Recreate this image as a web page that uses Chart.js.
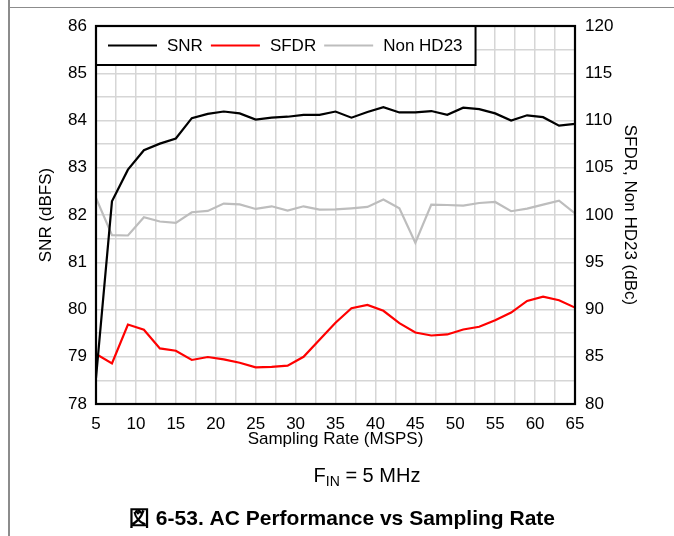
<!DOCTYPE html>
<html>
<head>
<meta charset="utf-8">
<script src="https://cdn.jsdelivr.net/npm/chart.js@4/dist/chart.umd.min.js"></script>
<style>
  body { margin: 0; background: #fff; }
  #wrap { position: relative; width: 674px; height: 536px; overflow: hidden; }
  .frame-v { position: absolute; left: 8px; top: 0; width: 2px; height: 536px; background: #8c8c8c; }
  .frame-h { position: absolute; left: 8px; top: 7px; width: 666px; height: 1px; background: #8c8c8c; }
</style>
</head>
<body>
<div id="wrap">
  <canvas id="acChart" width="674" height="536"></canvas>
  <div class="frame-v"></div>
  <div class="frame-h"></div>
</div>
<script>
// Sampling rate (MSPS)
const rates = [5, 7, 9, 11, 13, 15, 17, 19, 21, 23, 25, 27, 29, 31, 33, 35,
               37, 39, 41, 43, 45, 47, 49, 51, 53, 55, 57, 59, 61, 63, 65];

// SNR (dBFS), left axis
const snr = [78.55, 82.29, 82.96, 83.37, 83.51, 83.62, 84.05, 84.14, 84.19, 84.15, 84.02,
             84.06, 84.08, 84.12, 84.12, 84.19, 84.06, 84.18, 84.28, 84.17, 84.17, 84.20,
             84.12, 84.27, 84.24, 84.15, 84.00, 84.11, 84.07, 83.89, 83.93];

// SFDR (dBc), right axis
const sfdr = [85.29, 84.30, 88.41, 87.85, 85.88, 85.64, 84.66, 84.97, 84.72, 84.37, 83.88,
              83.92, 84.06, 85.00, 86.80, 88.60, 90.14, 90.49, 89.86, 88.56, 87.57, 87.25,
              87.36, 87.88, 88.17, 88.87, 89.68, 90.91, 91.36, 90.98, 90.20];

// Non HD23 (dBc), right axis
const nonHd23 = [101.8, 97.87, 97.83, 99.76, 99.31, 99.17, 100.29, 100.43, 101.21, 101.13, 100.64,
                 100.92, 100.47, 100.92, 100.57, 100.60, 100.71, 100.85, 101.63, 100.71, 97.06, 101.10,
                 101.06, 101.00, 101.27, 101.38, 100.40, 100.68, 101.10, 101.52, 100.18];

const xTicks = [5, 10, 15, 20, 25, 30, 35, 40, 45, 50, 55, 60, 65];
const snrTicks = [78, 79, 80, 81, 82, 83, 84, 85, 86];
const dbcTicks = [80, 85, 90, 95, 100, 105, 110, 115, 120];

const FONT = "'Liberation Sans', Arial, sans-serif";

function toPoints(ys) {
    return rates.map((r, i) => ({ x: r, y: ys[i] }));
}

// legend box in the top-left corner of the plot + notes under the chart
const boxLegend = {
    id: 'boxLegend',
    afterDraw(chart) {
        const ctx = chart.ctx;
        const area = chart.chartArea;
        const cy = 45.5;
        ctx.save();
        ctx.font = "17px " + FONT;
        let x = area.left + 12;
        const items = [];
        chart.data.datasets.forEach(ds => {
            const w = ctx.measureText(ds.label).width;
            items.push({ ds, x, w });
            x += 49 + 10 + w + 8;
        });
        const right = x - 8 + 13;
        ctx.fillStyle = '#fff';
        ctx.fillRect(area.left, area.top, right - area.left, 65 - area.top);
        ctx.strokeStyle = '#000';
        ctx.lineWidth = 2;
        ctx.strokeRect(area.left, area.top, right - area.left, 65 - area.top);

        items.forEach(it => {
            ctx.strokeStyle = it.ds.borderColor;
            ctx.lineWidth = 2;
            ctx.beginPath();
            ctx.moveTo(it.x, cy);
            ctx.lineTo(it.x + 49, cy);
            ctx.stroke();
            ctx.fillStyle = '#000';
            ctx.textBaseline = 'middle';
            ctx.fillText(it.ds.label, it.x + 59, cy + 1);
        });

        // plot border
        ctx.strokeStyle = '#000';
        ctx.lineWidth = 2.2;
        ctx.strokeRect(area.left, area.top, area.right - area.left, area.bottom - area.top);

        // F_IN note, centred
        ctx.fillStyle = '#000';
        ctx.textBaseline = 'alphabetic';
        const big = "20px " + FONT, small = "14px " + FONT;
        ctx.font = big;
        const wF = ctx.measureText('F').width, wRest = ctx.measureText(' = 5 MHz').width;
        ctx.font = small;
        const wIn = ctx.measureText('IN').width;
        let fx = 367 - (wF + wIn + wRest) / 2;
        ctx.font = big;
        ctx.fillText('F', fx, 482);
        fx += wF;
        ctx.font = small;
        ctx.fillText('IN', fx, 486);
        fx += wIn;
        ctx.font = big;
        ctx.fillText(' = 5 MHz', fx, 482);

        ctx.font = "bold 21px " + FONT;
        ctx.textAlign = 'center';
        ctx.fillText('図 6-53. AC Performance vs Sampling Rate', 342, 525);
        ctx.restore();
    }
};

new Chart(document.getElementById('acChart'), {
    type: 'line',
    data: {
        datasets: [
            { label: 'SNR', data: toPoints(snr), yAxisID: 'y', borderColor: '#000000', borderWidth: 2.2 },
            { label: 'SFDR', data: toPoints(sfdr), yAxisID: 'y2', borderColor: '#ff0000', borderWidth: 2.2 },
            { label: 'Non HD23', data: toPoints(nonHd23), yAxisID: 'y2', borderColor: '#bdbdbd', borderWidth: 2.2 }
        ]
    },
    options: {
        responsive: false,
        devicePixelRatio: 1,
        animation: false,
        events: [],
        layout: { padding: { top: 26, bottom: 82, left: 0, right: 0 } },
        elements: { point: { radius: 0 }, line: { tension: 0 } },
        plugins: { legend: { display: false }, tooltip: { enabled: false } },
        scales: {
            x: {
                type: 'linear', min: 5, max: 65,
                afterBuildTicks: s => { s.ticks = []; for (let i = 0; i <= 24; i++) s.ticks.push({ value: 5 + i * 2.5 }); },
                afterFit: s => { s.height = 50; },
                grid: { color: '#d6d6d6', lineWidth: 1.5, drawTicks: false },
                border: { display: false },
                ticks: {
                    autoSkip: false, maxRotation: 0, padding: 10, color: '#000',
                    font: { family: FONT, size: 17 },
                    callback: v => xTicks.includes(v) ? String(v) : ''
                },
                title: { display: true, text: 'Sampling Rate (MSPS)', color: '#000', font: { family: FONT, size: 17 }, padding: { top: 2 } }
            },
            y: {
                position: 'left', min: 78, max: 86,
                afterBuildTicks: s => { s.ticks = []; for (let i = 0; i <= 16; i++) s.ticks.push({ value: 78 + i * 0.5 }); },
                afterFit: s => { s.width = 96; },
                grid: { color: '#d6d6d6', lineWidth: 1.5, drawTicks: false },
                border: { display: false },
                ticks: {
                    autoSkip: false, padding: 9, color: '#000',
                    font: { family: FONT, size: 17 },
                    callback: v => snrTicks.includes(v) ? String(v) : ''
                },
                title: { display: true, text: 'SNR (dBFS)', color: '#000', font: { family: FONT, size: 17 }, padding: { top: 36 } }
            },
            y2: {
                position: 'right', min: 80, max: 120,
                afterBuildTicks: s => { s.ticks = []; for (let i = 0; i <= 16; i++) s.ticks.push({ value: 80 + i * 2.5 }); },
                afterFit: s => { s.width = 99; },
                grid: { drawOnChartArea: false, drawTicks: false },
                border: { display: false },
                ticks: {
                    autoSkip: false, padding: 10, color: '#000',
                    font: { family: FONT, size: 17 },
                    callback: v => dbcTicks.includes(v) ? String(v) : ''
                },
                title: { display: true, text: 'SFDR, Non HD23 (dBc)', color: '#000', font: { family: FONT, size: 17 }, padding: { top: 34 } }
            }
        }
    },
    plugins: [boxLegend]
});
</script>
</body>
</html>
